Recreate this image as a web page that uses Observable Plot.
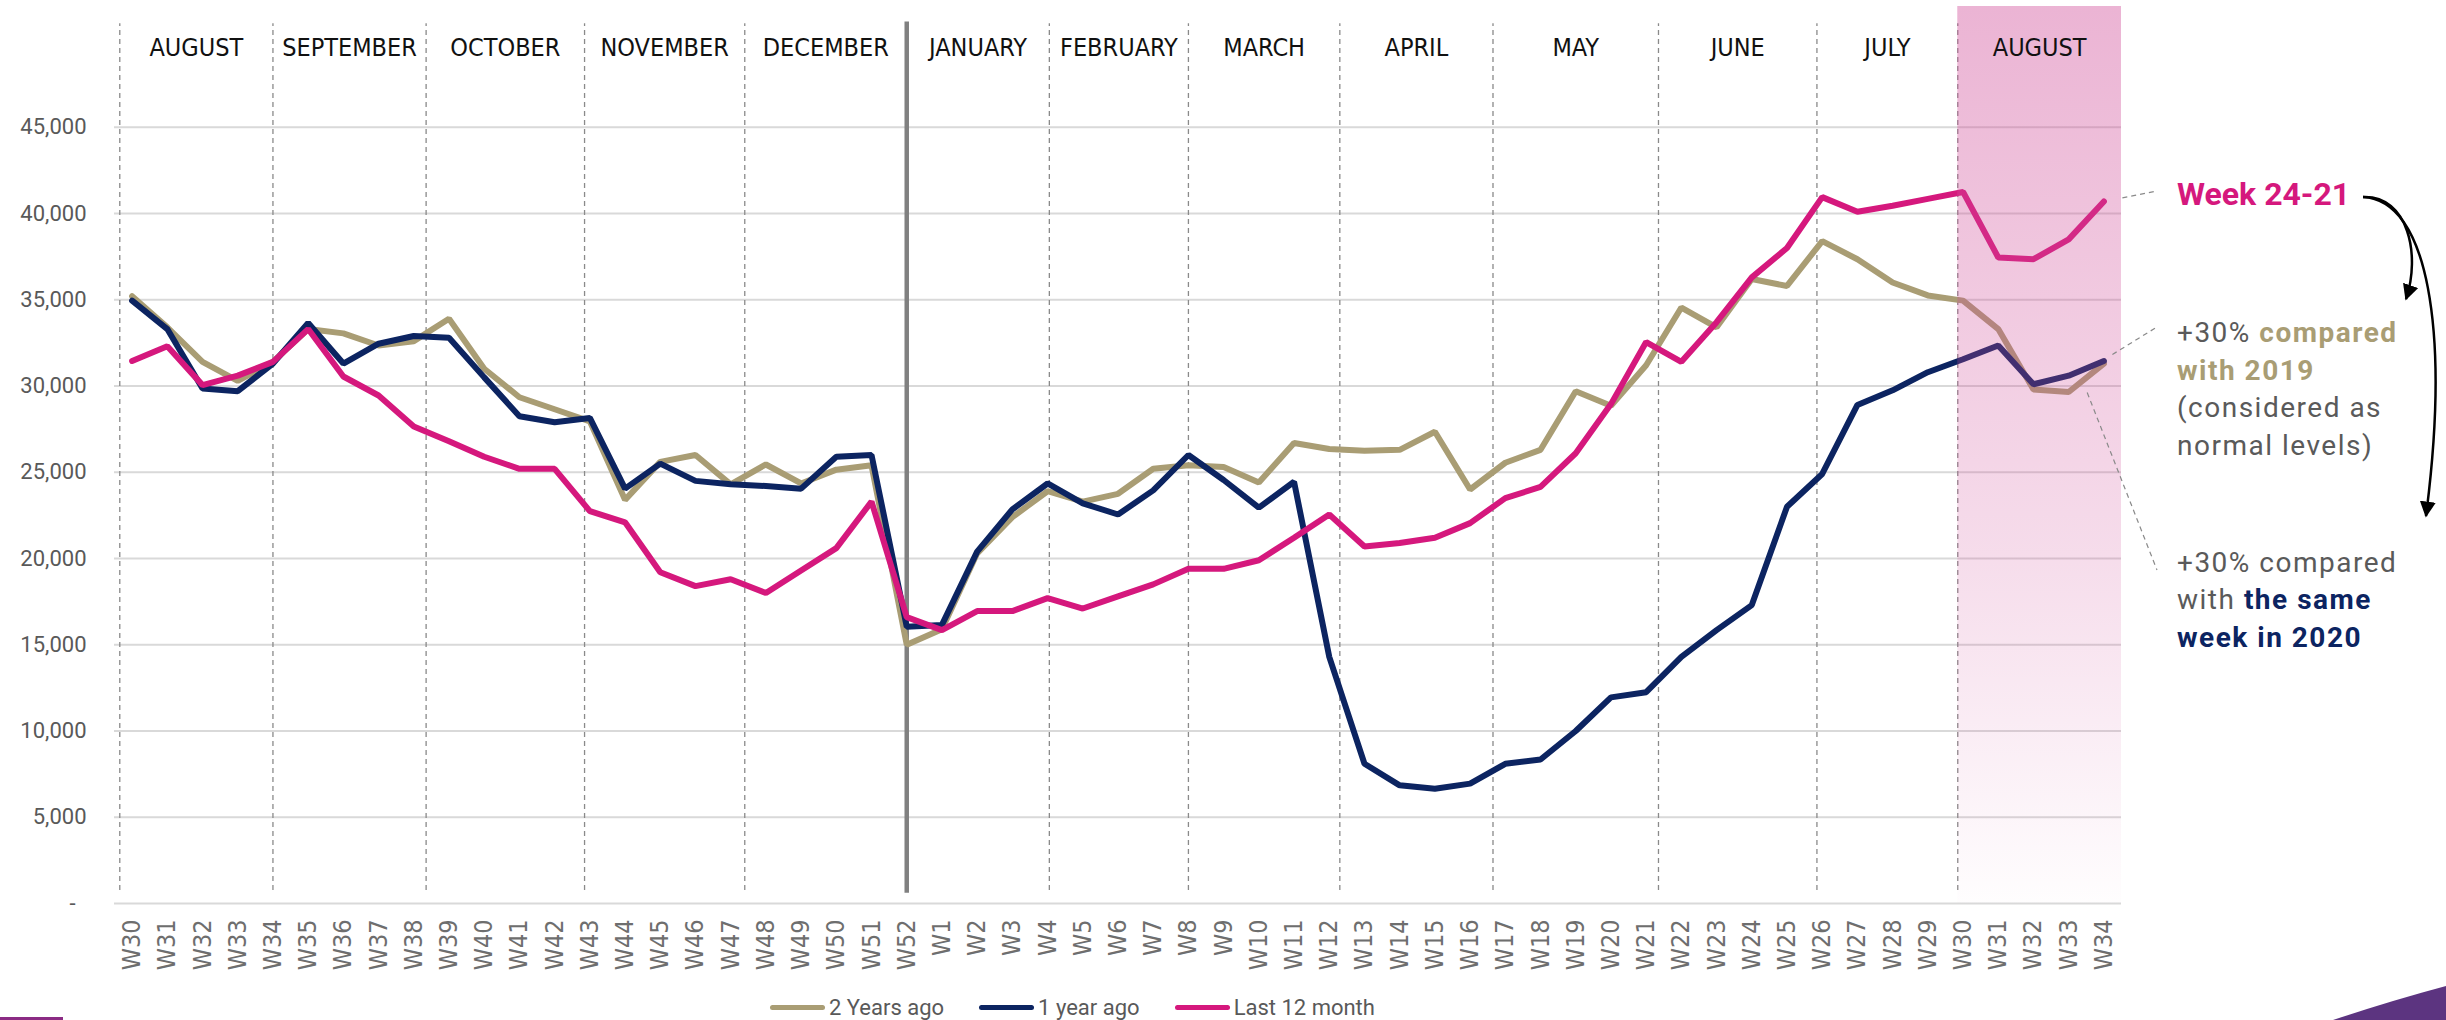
<!DOCTYPE html>
<html><head><meta charset="utf-8">
<script src="https://cdn.jsdelivr.net/npm/d3@7"></script>
<script src="https://cdn.jsdelivr.net/npm/@observablehq/plot@0.6"></script>
<style>
html,body{margin:0;padding:0;background:#fff;}
#wrap{position:relative;width:2446px;height:1020px;overflow:hidden;background:#fff;}
#legend{position:absolute;left:770px;top:993px;height:28px;display:flex;align-items:center;font-family:Roboto,sans-serif;font-size:22px;color:#595959;white-space:nowrap;}
.item{display:flex;align-items:center;margin-right:35px;}
.sw{width:55px;height:5px;border-radius:3px;margin-right:4px;}
#overlay{position:absolute;left:0;top:0;pointer-events:none;}
</style></head><body><div id="wrap"></div>
<script>
const weeks = ["W30","W31","W32","W33","W34","W35","W36","W37","W38","W39","W40","W41","W42","W43","W44","W45","W46","W47","W48","W49","W50","W51","W52",
  "W1","W2","W3","W4","W5","W6","W7","W8","W9","W10","W11","W12","W13","W14","W15","W16","W17","W18","W19","W20","W21","W22","W23","W24","W25","W26","W27","W28","W29","W30","W31","W32","W33","W34"];

const twoYearsAgo = [35200,33400,31400,30300,31400,33300,33050,32350,32600,33900,31000,29350,28650,27950,23400,25600,26000,24300,25450,24350,25150,25400,15000,
  15900,20300,22400,23900,23300,23750,25200,25400,25300,24400,26700,26350,26250,26300,27350,24000,25550,26300,29700,28850,31200,34550,33400,36200,35800,38400,37350,36000,35250,34950,33300,29800,29650,31300];

const oneYearAgo = [34950,33300,29850,29700,31300,33650,31300,32450,32900,32800,30500,28250,27900,28150,24050,25500,24500,24300,24200,24050,25900,26000,16050,
  16150,20400,22850,24350,23200,22550,23950,26000,24550,22950,24450,14300,8100,6850,6650,6950,8100,8350,10000,11950,12250,14300,15850,17300,23000,24900,28900,29750,30800,31550,32350,30100,30600,31450];

const last12Month = [31450,32300,30050,30600,31400,33300,30550,29450,27650,26800,25900,25200,25200,22750,22100,19200,18400,18800,18000,19300,20600,23300,16600,
  15850,16950,16950,17700,17100,17800,18500,19400,19400,19900,21200,22550,20700,20900,21200,22050,23500,24150,26100,28950,32550,31400,33700,36300,38000,40950,40100,40450,40850,41250,37450,37350,38500,40700];

const seriesNames = ["2 Years ago", "1 year ago", "Last 12 month"];
const seriesColors = ["#a99d74", "#0c2461", "#d5187d"];

const yTicks = [0,5000,10000,15000,20000,25000,30000,35000,40000,45000];

const monthNames = ["AUGUST","SEPTEMBER","OCTOBER","NOVEMBER","DECEMBER","JANUARY","FEBRUARY","MARCH","APRIL","MAY","JUNE","JULY","AUGUST"];
// month boundaries expressed as week-index positions (last = end of chart)
const monthBounds = [-0.35, 4.0, 8.35, 12.85, 17.4, 22, 26.05, 30.0, 34.3, 38.65, 43.35, 47.85, 51.85, 56.5];
const yearBreak = 22;       // W52
const highlightFrom = 51.85; // start of last August

const seriesValues = [twoYearsAgo, oneYearAgo, last12Month];
const rows = [];
seriesNames.forEach((s, k) => seriesValues[k].forEach((v, i) => rows.push({week: i, value: v, series: s})));

const narrow = "'Liberation Sans Narrow', 'DejaVu Sans Condensed', 'Arial Narrow', sans-serif";
const dividers = monthBounds.slice(0, -1).filter(b => b !== yearBreak);

const chart = Plot.plot({
  width: 2446, height: 985,
  marginLeft: 114, marginRight: 325, marginTop: 6, marginBottom: 82,
  x: {domain: [-0.5, weeks.length - 0.5]},
  y: {domain: [0, 52000]},
  color: {domain: seriesNames, range: seriesColors},
  style: {background: "#fff", fontFamily: "Roboto, sans-serif"},
  marks: [
    Plot.ruleY(yTicks, {stroke: "#d9d9d9", strokeWidth: 2}),
    Plot.ruleX(dividers, {y1: 750, y2: 51000, stroke: "#8a8a8a", strokeWidth: 1.3, strokeDasharray: "5,4"}),
    Plot.ruleX([yearBreak], {y1: 600, y2: 51100, stroke: "#808080", strokeWidth: 4.5}),
    Plot.line(rows, {x: "week", y: "value", z: "series", stroke: "series", strokeWidth: 6, strokeLinejoin: "miter"}),
    Plot.rect([0], {x1: highlightFrom, x2: weeks.length - 0.5, y1: 0, y2: 52000, fill: "url(#hlGrad)"}),
    Plot.text(monthNames, {x: (d, i) => (monthBounds[i] + monthBounds[i + 1]) / 2, y: 49600, text: d => d,
      fontSize: 25, fontFamily: narrow, fill: "#111"}),
    Plot.axisY(yTicks, {tickFormat: v => v === 0 ? "-\u00a0\u00a0" : d3.format(",")(v), tickSize: 0, tickPadding: 28,
      fontSize: 22, fill: "#595959", label: null, fontFamily: "Roboto, sans-serif", style: "letter-spacing:1px"}),
    Plot.axisX(d3.range(weeks.length), {tickFormat: i => weeks[i], tickRotate: -90, tickSize: 0, tickPadding: 16,
      fontSize: 25, fill: "#6e6e6e", label: null, fontFamily: narrow})
  ]
});

// gradient for highlight
const defs = d3.select(chart).insert("defs", ":first-child");
const g = defs.append("linearGradient").attr("id", "hlGrad").attr("x1", 0).attr("y1", 0).attr("x2", 0).attr("y2", 1);
g.append("stop").attr("offset", "0%").attr("stop-color", "#d04c98").attr("stop-opacity", 0.42);
g.append("stop").attr("offset", "60%").attr("stop-color", "#d04c98").attr("stop-opacity", 0.2);
g.append("stop").attr("offset", "100%").attr("stop-color", "#d04c98").attr("stop-opacity", 0.01);

const wrap = document.getElementById("wrap");
wrap.appendChild(chart);

// legend
const legend = d3.select(wrap).append("div").attr("id", "legend");
seriesNames.forEach((s, k) => {
  const it = legend.append("div").attr("class", "item");
  it.append("span").attr("class", "sw").style("background", seriesColors[k]);
  it.append("span").text(s);
});

// annotations overlay
const sx = chart.scale("x"), sy = chart.scale("y");
const ov = d3.select(wrap).append("svg").attr("id", "overlay").attr("width", 2446).attr("height", 1020);
ov.append("defs").append("marker").attr("id", "arr").attr("viewBox", "0 0 10 10").attr("refX", 9).attr("refY", 5)
  .attr("markerUnits", "userSpaceOnUse").attr("markerWidth", 16).attr("markerHeight", 16).attr("orient", "auto")
  .append("path").attr("d", "M0,0 L10,5 L0,10 z").attr("fill", "#000");

const last = weeks.length - 1;
const leaders = [
  [sx.apply(last) + 19, sy.apply(last12Month[last]) - 3, 2157, 191],
  [sx.apply(last) + 9, sy.apply(oneYearAgo[last]) - 6, 2157, 327],
  [sx.apply(last - 1) + 19, sy.apply(twoYearsAgo[last - 1]) + 1, 2157, 570]
];
leaders.forEach(([x1, y1, x2, y2]) => ov.append("line").attr("x1", x1).attr("y1", y1).attr("x2", x2).attr("y2", y2)
  .attr("stroke", "#8a8a8a").attr("stroke-width", 1.2).attr("stroke-dasharray", "5,4"));

ov.append("path").attr("d", "M2363,197 C2408,195 2421,255 2406,299").attr("fill", "none").attr("stroke", "#000")
  .attr("stroke-width", 2.5).attr("marker-end", "url(#arr)");
ov.append("path").attr("d", "M2363,197 C2428,200 2450,330 2426,516").attr("fill", "none").attr("stroke", "#000")
  .attr("stroke-width", 2.5).attr("marker-end", "url(#arr)");

const txt = (x, y, parts, size) => {
  const t = ov.append("text").attr("x", x).attr("y", y).attr("font-family", "Roboto, sans-serif").attr("font-size", size);
  parts.forEach(([s, color, bold, ls]) => t.append("tspan").text(s).attr("fill", color)
    .attr("font-weight", bold ? 700 : 400).attr("letter-spacing", ls));
};
const grey = "#5a5a5a";
txt(2177, 205, [["Week 24-21", seriesColors[2], true, 0]], 32);
txt(2177, 342, [["+30% ", grey, false, 1.5], ["compared", seriesColors[0], true, 1.5]], 28);
txt(2177, 380, [["with 2019", seriesColors[0], true, 1.5]], 28);
txt(2177, 417, [["(considered as", grey, false, 1.5]], 28);
txt(2177, 455, [["normal levels)", grey, false, 1.5]], 28);
txt(2177, 572, [["+30% compared", grey, false, 1.5]], 28);
txt(2177, 609, [["with ", grey, false, 1.5], ["the same", seriesColors[1], true, 1.5]], 28);
txt(2177, 647, [["week in 2020", seriesColors[1], true, 1.5]], 28);

// decorative corner shapes
ov.append("rect").attr("x", 0).attr("y", 1017).attr("width", 63).attr("height", 3).attr("fill", "#8b2b84");
ov.append("path").attr("d", "M2333,1020 Q2390,1001 2446,986 L2446,1020 Z").attr("fill", "#5c3480");
</script></body></html>
